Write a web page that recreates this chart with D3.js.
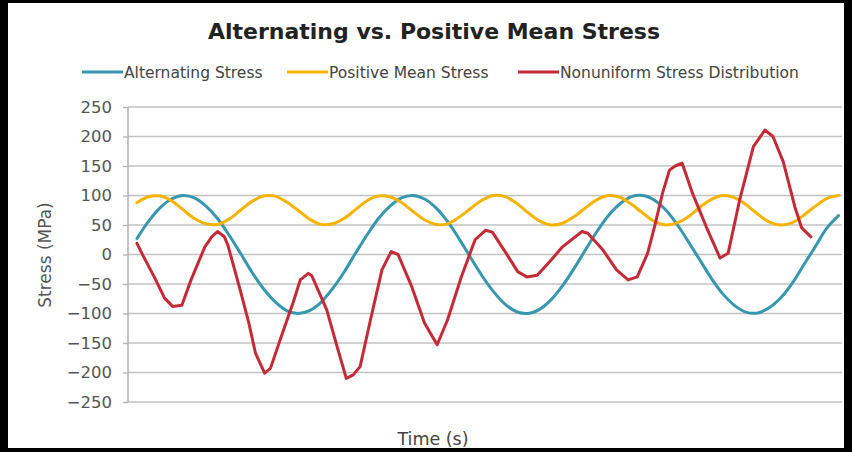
<!DOCTYPE html>
<html>
<head>
<meta charset="utf-8">
<script src="https://cdn.jsdelivr.net/npm/d3@7"></script>
<style>
    body { margin: 0; background: #fff; }
    svg { display: block; }
    text { font-family: "DejaVu Sans", Verdana, sans-serif; }
</style>
</head>
<body>
<svg></svg>
<script>
const width = 852;
const height = 452;

// time samples (s) for the two regular waves
const waveTime = [0, 0.1, 0.2, 0.3, 0.4, 0.5, 0.6, 0.7, 0.8, 0.9,
    1.0, 1.1, 1.2, 1.3, 1.4, 1.5, 1.6, 1.7, 1.8, 1.9,
    2.0, 2.1, 2.2, 2.3, 2.4, 2.5, 2.6, 2.7, 2.8, 2.9,
    3.0, 3.1, 3.2, 3.3, 3.4, 3.5, 3.6, 3.7, 3.8, 3.9,
    4.0, 4.1, 4.2, 4.3, 4.4, 4.5, 4.6, 4.7, 4.8, 4.9,
    5.0, 5.1, 5.2, 5.3, 5.4, 5.5, 5.6, 5.7, 5.8, 5.9,
    6.0, 6.1];

const alternating = [27, 56, 79, 94, 100, 96, 82, 61, 33, 2,
    -30, -58, -80, -95, -100, -95, -81, -58, -30, 2,
    33, 61, 82, 96, 100, 94, 79, 56, 27, -5,
    -36, -63, -84, -97, -100, -93, -77, -53, -24, 8,
    39, 66, 86, 98, 100, 92, 75, 50, 20, -11,
    -42, -68, -87, -98, -99, -90, -73, -48, -17, 14,
    45, 66];

const positiveMean = [88, 98, 99, 91, 76, 61, 52, 51, 60, 75,
    90, 99, 99, 89, 75, 60, 51, 52, 61, 76,
    91, 99, 98, 88, 73, 59, 51, 52, 63, 78,
    92, 100, 98, 87, 71, 57, 50, 53, 64, 79,
    93, 100, 97, 85, 70, 56, 50, 54, 65, 81,
    94, 100, 96, 84, 68, 55, 50, 54, 67, 82,
    95, 100];

// the nonuniform signal is read at its own points
const nonuniformTime = [0, 0.05, 0.15, 0.24, 0.31, 0.39, 0.47, 0.59, 0.65, 0.70,
    0.76, 0.79, 0.90, 0.97, 1.03, 1.11, 1.16, 1.26, 1.36, 1.42,
    1.49, 1.52, 1.65, 1.74, 1.82, 1.88, 1.94, 2.03, 2.13, 2.21,
    2.27, 2.39, 2.50, 2.61, 2.70, 2.82, 2.94, 3.03, 3.09, 3.23,
    3.31, 3.39, 3.48, 3.59, 3.70, 3.87, 3.92, 4.05, 4.17, 4.27,
    4.35, 4.44, 4.50, 4.57, 4.63, 4.68, 4.74, 4.83, 4.95, 5.07,
    5.14, 5.24, 5.36, 5.46, 5.53, 5.62, 5.72, 5.78, 5.86];

const nonuniform = [19, -1, -38, -74, -88, -86, -43, 13, 30, 39,
    30, 16, -62, -114, -167, -201, -193, -136, -80, -43,
    -32, -36, -94, -156, -210, -204, -190, -111, -26, 5,
    0, -55, -116, -153, -111, -38, 25, 41, 38, -4,
    -29, -38, -35, -12, 13, 39, 36, 8, -26, -43,
    -38, 2, 47, 104, 143, 150, 155, 104, 47, -6,
    2, 92, 183, 211, 200, 157, 81, 45, 30];

const yTicks = [250, 200, 150, 100, 50, 0, -50, -100, -150, -200, -250];

const series = [
    { name: "Alternating Stress", color: "#3897ae", t: waveTime, v: alternating },
    { name: "Positive Mean Stress", color: "#f6b400", t: waveTime, v: positiveMean },
    { name: "Nonuniform Stress Distribution", color: "#c52a37", t: nonuniformTime, v: nonuniform }
];

const svg = d3.select("svg")
    .attr("width", width)
    .attr("height", height);

// ---------------------------- Frame ----------------------------------------
svg.append("rect").attr("x", 0).attr("y", 0).attr("width", width).attr("height", height).attr("fill", "#000");
svg.append("rect").attr("x", 8).attr("y", 3).attr("width", 836).attr("height", 445).attr("fill", "#fff");

const plotLeft = 128, plotRight = 842;

const x = d3.scaleLinear().domain([0, 6.1]).range([137, 838.5]);
const y = d3.scaleLinear().domain([-250, 250]).range([402, 107]);

// ---------------------------- Grid and axis --------------------------------
svg.append("g")
    .selectAll("line")
    .data(yTicks)
    .enter().append("line")
    .attr("x1", plotLeft)
    .attr("x2", plotRight)
    .attr("y1", d => y(d))
    .attr("y2", d => y(d))
    .attr("stroke", "#c2c2c2")
    .attr("stroke-width", 1.7);

const yAxis = svg.append("g")
    .attr("transform", `translate(${plotLeft},0)`)
    .call(d3.axisLeft(y).tickValues(yTicks).tickSize(5).tickPadding(11));

yAxis.select(".domain").attr("stroke", "#b5b5b5").attr("stroke-width", 1.6)
    .attr("d", `M0,${y(250)}V${y(-250)}`);
yAxis.selectAll(".tick line").attr("stroke", "#b5b5b5").attr("stroke-width", 1.4);
yAxis.selectAll(".tick text")
    .attr("fill", "#555")
    .style("font-size", "16.5px")
    .style("font-family", "'DejaVu Sans', sans-serif");

// ---------------------------- Lines ---------------------------------------
series.forEach(s => {
    const pts = s.t.map((t, i) => [t, s.v[i]]);
    const line = d3.line()
        .x(d => x(d[0]))
        .y(d => y(d[1]))
        .curve(s.name === "Nonuniform Stress Distribution" ? d3.curveLinear : d3.curveCatmullRom);
    svg.append("path")
        .datum(pts)
        .attr("fill", "none")
        .attr("stroke", s.color)
        .attr("stroke-width", 3)
        .attr("stroke-linejoin", "round")
        .attr("stroke-linecap", "round")
        .attr("d", line);
});

// ---------------------------- Titles and legend ---------------------------
svg.append("text")
    .attr("x", 434)
    .attr("y", 39)
    .attr("text-anchor", "middle")
    .attr("fill", "#222")
    .style("font-size", "22px")
    .style("font-weight", "bold")
    .text("Alternating vs. Positive Mean Stress");

const legendX = [82, 287, 518];
const legend = svg.append("g")
    .selectAll("g")
    .data(series)
    .enter().append("g")
    .attr("transform", (d, i) => `translate(${legendX[i]},72)`);

legend.append("line")
    .attr("x1", 0).attr("x2", 41)
    .attr("stroke", d => d.color)
    .attr("stroke-width", 3);

legend.append("text")
    .attr("x", 42)
    .attr("y", 5.5)
    .attr("fill", "#444")
    .style("font-size", "15.5px")
    .text(d => d.name);

svg.append("text")
    .attr("transform", "translate(51,255) rotate(-90)")
    .attr("text-anchor", "middle")
    .attr("fill", "#555")
    .style("font-size", "17px")
    .text("Stress (MPa)");

svg.append("text")
    .attr("x", 433)
    .attr("y", 445)
    .attr("text-anchor", "middle")
    .attr("fill", "#444")
    .style("font-size", "17.5px")
    .text("Time (s)");
</script>
</body>
</html>
